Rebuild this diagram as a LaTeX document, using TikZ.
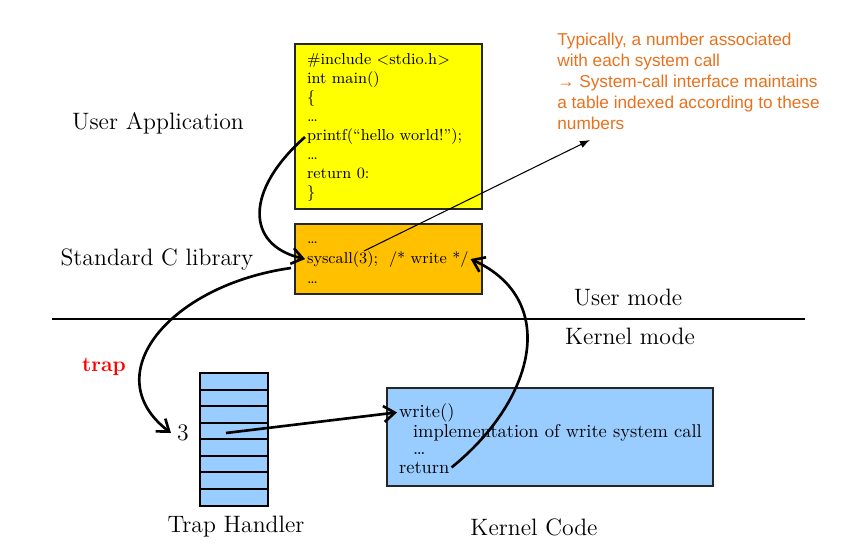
\documentclass[tikz,border=0pt]{standalone}
\usepackage{fontspec}
\newfontfamily\notefont{Liberation Sans}
\usetikzlibrary{arrows.meta,calc}
\definecolor{codeyellow}{RGB}{255,255,0}
\definecolor{libgold}{RGB}{255,192,0}
\definecolor{kernelblue}{RGB}{153,204,255}
\definecolor{noteorange}{RGB}{232,113,30}
\definecolor{trapred}{RGB}{255,0,0}

\tikzset{
  codebox/.style={draw=black!85, line width=0.8pt, inner sep=0pt},
  codeline/.style={anchor=base west, inner sep=1pt, font=\fontsize{9}{10}\selectfont},
  kernline/.style={anchor=base west, inner sep=1pt, font=\fontsize{10.5}{12}\selectfont},
  layerlabel/.style={font=\fontsize{13.5}{16}\selectfont},
  flow/.style={line width=1.5pt, -{Straight Barb[length=2.2mm,width=3.2mm]}},
}

\begin{document}
\begin{tikzpicture}[x=0.02cm, y=-0.02cm]
	\useasboundingbox (0,0) rectangle (847,560);

	% boxes
	\node[codebox, fill=codeyellow, minimum width=3.74cm, minimum height=3.3cm] (appbox) at (388.5,126.5) {};
	\node[codebox, fill=libgold, minimum width=3.74cm, minimum height=1.4cm] (libbox) at (388.5,259) {};
	\node[codebox, fill=kernelblue, minimum width=6.52cm, minimum height=1.96cm] (kernbox) at (550,437) {};

	% application code
	\foreach \txt [count=\i] in {\#include <stdio.h>, int main(), \{, \dots, {printf(``hello world!'');}, \dots, return 0:, \}}
		\node[codeline] (app\i) at (305,46+19*\i) {\txt};

	% library code
	\node[codeline] (lib1) at (305,243) {\dots};
	\node[codeline] (syscall) at (305,263) {syscall(3);\ \ /* write */};
	\node[codeline] (lib3) at (305,283) {\dots};

	% kernel code
	\node[kernline] (write) at (397,417) {write()};
	\node[kernline] (impl) at (411,437) {implementation of write system call};
	\node[kernline] (kdots) at (411,454) {\dots};
	\node[kernline] (ret) at (397,473) {return};

	% trap table
	\draw[fill=kernelblue, line width=0.8pt] (200,373) rectangle (268,506);
	\foreach \y in {390,406,423,439,456,472,489}
		\draw[line width=0.8pt] (200,\y) -- ++(68,0);
	\node[layerlabel] (three) at (183,433) {3};
	\coordinate (slot) at (226,433);
	\node[font=\fontsize{12}{14}\selectfont\bfseries, text=trapred] (traplbl) at (104,367) {trap};

	% labels
	\node[layerlabel] (userapp) at (158,123) {User Application};
	\node[layerlabel] (stdlib) at (157,260) {Standard C library};
	\node[layerlabel] (usermode) at (628,298) {User mode};
	\node[layerlabel] (kernmode) at (630,336) {Kernel mode};
	\node[layerlabel] (traphandler) at (236,527) {Trap Handler};
	\node[layerlabel] (kerncode) at (534,527) {Kernel Code};

	\draw[line width=0.8pt] (52,319) -- (805,319);

	% note
	\node[anchor=north west, align=left, inner sep=0pt, text=noteorange, font=\notefont\fontsize{9.8}{11.9}\selectfont] (note) at (557,33)
		{Typically, a number associated\\with each system call\\→ System-call interface maintains\\a table indexed according to these\\numbers};
	\coordinate (callno) at (364,251);
	\coordinate (notetip) at (590,140);
	\draw[line width=0.6pt, -{Latex[length=2mm]}] (callno) -- (notetip);

	% control flow
	\coordinate (trapout) at (291,268);
	\draw[flow] (app5.west) .. controls (245,190) and (245,245) .. (syscall.west);
	\draw[flow] (trapout) .. controls (170,285) and (95,375) .. (three.west);
	\draw[flow] (slot) -- (write.west);
	\draw[flow] (ret.east) .. controls (535,400) and (560,300) .. (syscall.east);

\end{tikzpicture}
\end{document}
